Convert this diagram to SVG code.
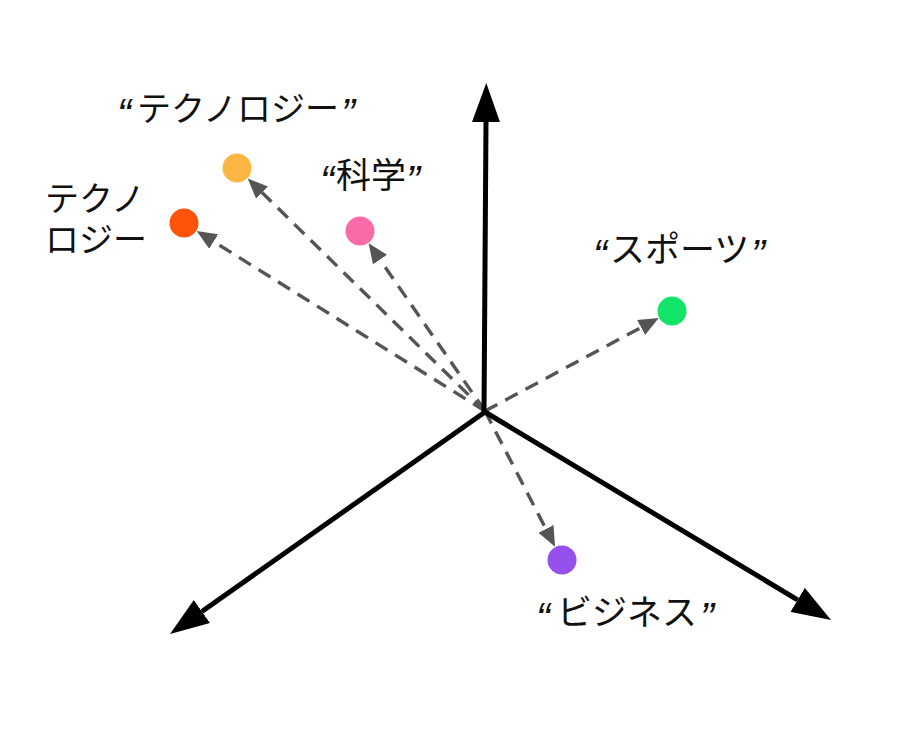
<svg xmlns="http://www.w3.org/2000/svg" width="924" height="744" viewBox="0 0 924 744">
<style>
.axis{stroke:#000;stroke-width:5;fill:none}
.vec{stroke:#555;stroke-width:3.4;stroke-dasharray:14 9;fill:none}
.lbl{font-family:"Liberation Sans","Noto Sans CJK JP",sans-serif;font-size:35px;fill:#111}
.lbl2{font-family:"Liberation Sans","Noto Sans CJK JP",sans-serif;font-size:34px;fill:#111}
.q{font-family:"Liberation Sans",sans-serif;font-style:italic;font-size:42px}
</style>
<defs>
<marker id="ah" viewBox="0 0 39 28" refX="0" refY="14" markerWidth="39" markerHeight="28" markerUnits="userSpaceOnUse" orient="auto"><path d="M0,0 L39,14 L0,28 z" fill="#000"/></marker>
<marker id="dh" viewBox="0 0 20 17" refX="0" refY="8.5" markerWidth="20" markerHeight="17" markerUnits="userSpaceOnUse" orient="auto"><path d="M0,0 L20,8.5 L0,17 z" fill="#555"/></marker>
</defs>
<rect width="924" height="744" fill="#fff"/>
<g id="connectors">
<line class="vec" x1="485" y1="411" x2="262" y2="192.5" marker-end="url(#dh)"/>
<line class="vec" x1="485" y1="411" x2="213.7" y2="241.6" marker-end="url(#dh)"/>
<line class="vec" x1="485" y1="411" x2="380" y2="259.7" marker-end="url(#dh)"/>
<line class="vec" x1="485" y1="411" x2="641.1" y2="327.5" marker-end="url(#dh)"/>
<line class="vec" x1="485" y1="411" x2="545.9" y2="528.9" marker-end="url(#dh)"/>
</g>
<g id="axes">
<line class="axis" x1="484" y1="412" x2="486" y2="122" marker-end="url(#ah)"/>
<line class="axis" x1="485" y1="412" x2="201.9" y2="611.5" marker-end="url(#ah)"/>
<line class="axis" x1="485" y1="412" x2="797.6" y2="599.9" marker-end="url(#ah)"/>
</g>
<g id="technology-quoted"><circle cx="237" cy="168" r="14.5" fill="#FDB543"/><text class="lbl" y="121"><tspan class="q" x="117" y="128">“</tspan><tspan class="lbl2" x="137" y="121">テクノロジー</tspan><tspan class="q" x="341" y="128">”</tspan></text></g>
<g id="technology"><circle cx="184" cy="223" r="14.5" fill="#FF5309"/><text class="lbl2" x="45" y="211">テクノ</text><text class="lbl2" x="45" y="252">ロジー</text></g>
<g id="science"><circle cx="360" cy="231" r="14.5" fill="#F86BA6"/><text class="lbl" y="188"><tspan class="q" x="320" y="195">“</tspan><tspan x="336" y="188">科学</tspan><tspan class="q" x="406" y="195">”</tspan></text></g>
<g id="sports"><circle cx="672" cy="311" r="14.5" fill="#12E468"/><text class="lbl" y="262"><tspan class="q" x="593" y="269">“</tspan><tspan x="610" y="262">スポーツ</tspan><tspan class="q" x="751" y="269">”</tspan></text></g>
<g id="business"><circle cx="562" cy="560" r="14.5" fill="#9650EE"/><text class="lbl" y="625"><tspan class="q" x="536" y="632">“</tspan><tspan x="557" y="625">ビジネス</tspan><tspan class="q" x="700" y="632">”</tspan></text></g>
</svg>
